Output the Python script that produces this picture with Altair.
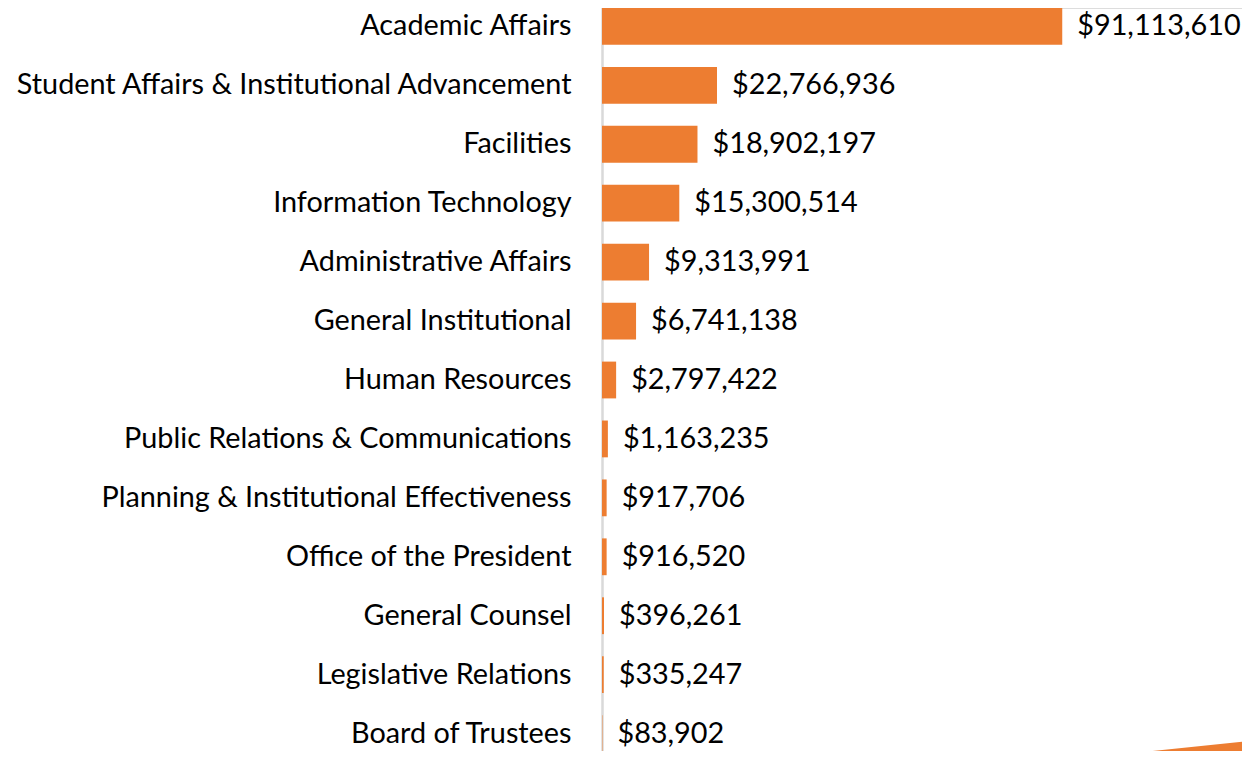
import altair as alt
import pandas as pd

categories = [
    "Academic Affairs",
    "Student Affairs & Institutional Advancement",
    "Facilities",
    "Information Technology",
    "Administrative Affairs",
    "General Institutional",
    "Human Resources\u00a0",
    "Public Relations & Communications",
    "Planning & Institutional Effectiveness",
    "Office of the President",
    "General Counsel",
    "Legislative Relations",
    "Board of Trustees",
]
values = [91113610, 22766936, 18902197, 15300514, 9313991, 6741138, 2797422,
          1163235, 917706, 916520, 396261, 335247, 83902]

df = pd.DataFrame({"cat": categories, "val": values})
df["lbl"] = ["${:,}".format(v) for v in values]

FONT = "Lato"
ORANGE = "#ED7D31"
FS = 28.8

y = alt.Y("cat:N", sort=categories, title=None,
          scale=alt.Scale(paddingInner=0.3755, paddingOuter=0.0084, range=[-0.5, 744.5]),
          axis=alt.Axis(domainColor="#D9D9D9", domainWidth=2.5, ticks=False,
                        labelFontSize=FS, labelFont=FONT, labelColor="#000000",
                        labelPadding=31, labelLimit=700, labelAlign="right"))
x = alt.X("val:Q", title=None, scale=alt.Scale(domain=[0, 126700000], nice=False),
          axis=None)

bars = alt.Chart(df).mark_bar(color=ORANGE).encode(x=x, y=y)
text = alt.Chart(df).mark_text(align="left", baseline="middle", dx=15,
                               font=FONT, fontSize=FS, color="#000000").encode(
    x=x, y=alt.Y("cat:N", sort=categories), text="lbl:N")

deco = alt.Chart(pd.DataFrame({"k": [0]})).mark_point(
    shape="M-1,1 L1,0.794 L1,1 Z", filled=True, color=ORANGE, opacity=1,
    size=30625, clip=False).encode(x=alt.value(560.5), y=alt.value(663.5))

chart = alt.layer(bars, text, deco).properties(
    width=640, height=743,
    autosize=alt.AutoSizeParams(type="none"),
    padding={"left": 594, "top": 0, "right": 0, "bottom": 0},
).configure_view(stroke=None).configure(background="white")

chart.save("out.html", embed_options={"renderer": "svg", "actions": False})
